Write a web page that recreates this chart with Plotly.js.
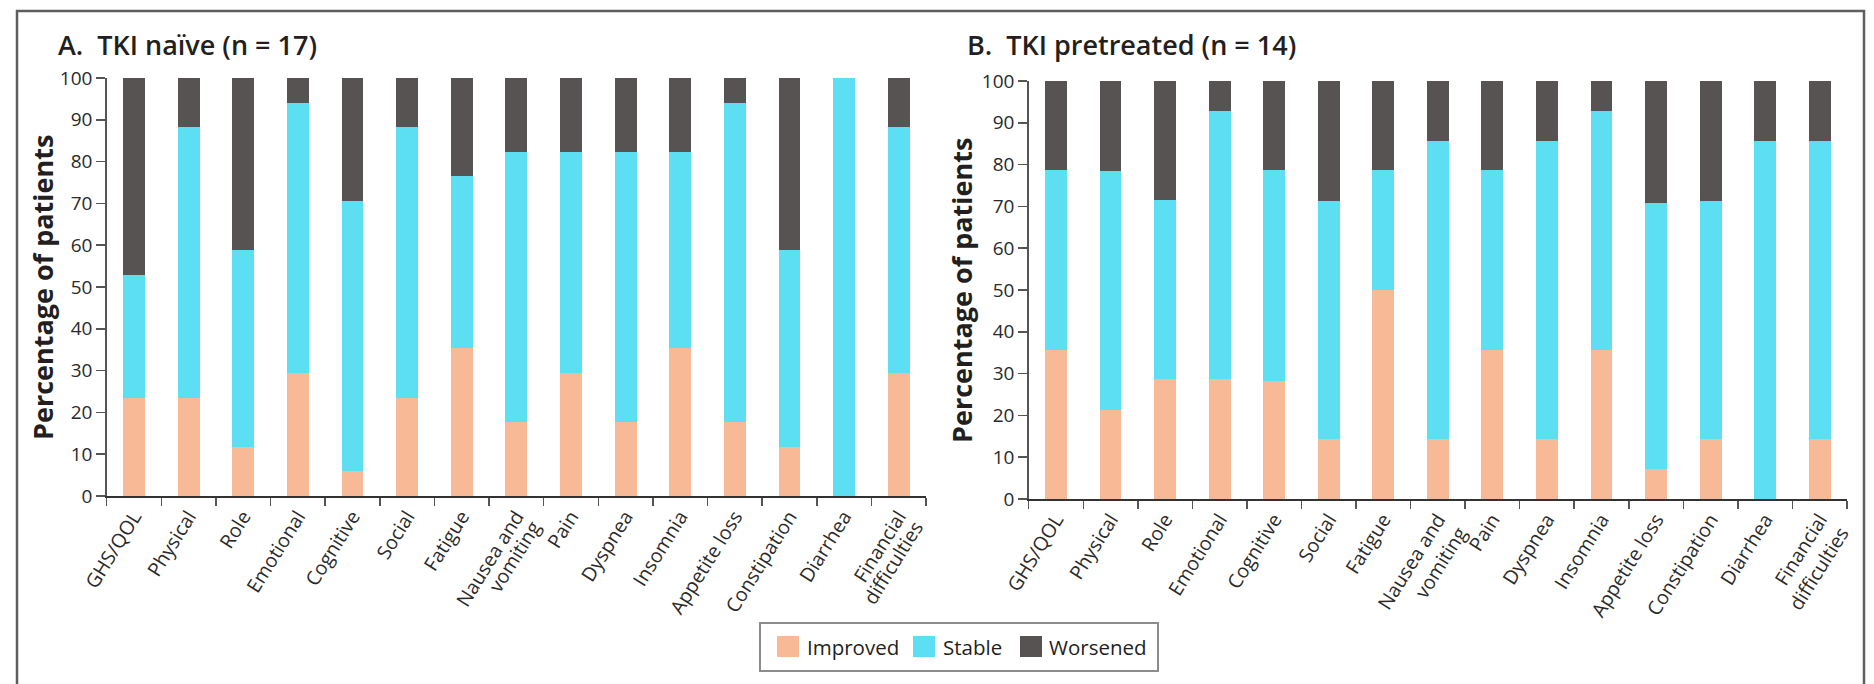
<!DOCTYPE html>
<html>
<head>
<meta charset="utf-8">
<script src="https://cdn.plot.ly/plotly-3.0.1.min.js"></script>
<style>
  html, body { margin: 0; padding: 0; background: #ffffff; }
  #chart { width: 1874px; height: 684px; }
</style>
</head>
<body>
<div id="chart"></div>
<script>
// ---- Data (percentages of patients) ----
const categories = ['GHS/QOL', 'Physical', 'Role', 'Emotional', 'Cognitive', 'Social', 'Fatigue',
  'Nausea and<br>vomiting', 'Pain', 'Dyspnea', 'Insomnia', 'Appetite loss', 'Constipation',
  'Diarrhea', 'Financial<br>difficulties'];

const naiveImproved = [23.5, 23.5, 11.8, 29.4, 5.9, 23.5, 35.3, 17.6, 29.4, 17.6, 35.3, 17.6, 11.8, 0, 29.4];
const naiveStable   = [29.4, 64.7, 47.1, 64.7, 64.7, 64.7, 41.2, 64.7, 52.9, 64.7, 47.1, 76.5, 47.1, 100, 58.8];
const naiveWorsened = [47.1, 11.8, 41.2, 5.9, 29.4, 11.8, 23.5, 17.6, 17.6, 17.6, 17.6, 5.9, 41.2, 0, 11.8];

const pretreatedImproved = [35.7, 21.4, 28.6, 28.6, 28.3, 14.3, 50.0, 14.3, 35.7, 14.3, 35.7, 7.1, 14.3, 0, 14.3];
const pretreatedStable   = [42.9, 57.1, 42.9, 64.3, 50.3, 57.1, 28.6, 71.4, 42.9, 71.4, 57.1, 63.8, 57.1, 85.7, 71.4];
const pretreatedWorsened = [21.4, 21.4, 28.6, 7.1, 21.4, 28.6, 21.4, 14.3, 21.4, 14.3, 7.1, 29.1, 28.6, 14.3, 14.3];

const seriesNames = ['Improved', 'Stable', 'Worsened'];
const panelTitles = ['A.  TKI na\u00efve (n = 17)', 'B.  TKI pretreated (n = 14)'];
const yTitle = 'Percentage of patients';
const yTickValues = [0, 10, 20, 30, 40, 50, 60, 70, 80, 90, 100];

// ---- Styles ----
const colors = ['#F8B996', '#5CDEF3', '#575353'];
const FONT = '"Open Sans", "DejaVu Sans", sans-serif';
const W = 1874, H = 684;
const px = v => v / W;
const py = v => 1 - v / H;

const naive = [naiveImproved, naiveStable, naiveWorsened];
const pre = [pretreatedImproved, pretreatedStable, pretreatedWorsened];

const traces = [];
seriesNames.forEach((name, i) => {
  traces.push({
    type: 'bar', name: name, x: categories, y: naive[i],
    xaxis: 'x', yaxis: 'y', showlegend: false,
    marker: { color: colors[i], line: { width: 0 } }, hoverinfo: 'x+y+name'
  });
});
seriesNames.forEach((name, i) => {
  traces.push({
    type: 'bar', name: name, x: categories, y: pre[i],
    xaxis: 'x2', yaxis: 'y2', showlegend: false,
    marker: { color: colors[i], line: { width: 0 } }, hoverinfo: 'x+y+name'
  });
});

const xCommon = {
  type: 'category', showline: true, linecolor: '#333', linewidth: 1.5,
  ticks: 'outside', tickson: 'boundaries', ticklen: 8, tickwidth: 1.5, tickcolor: '#555',
  tickangle: -58, tickfont: { family: FONT, size: 19.5, color: '#2a2a2a' },
  showgrid: false, zeroline: false, fixedrange: true
};
const yCommon = {
  range: [0, 100], tickvals: yTickValues, showline: true, linecolor: '#555', linewidth: 1.5,
  ticks: 'outside', ticklen: 9, tickwidth: 1.5, tickcolor: '#555',
  tickfont: { family: FONT, size: 19, color: '#2a2a2a' },
  showgrid: false, zeroline: false, fixedrange: true
};

// Legend drawn as layout shapes + text (box, swatches, labels)
const legendBox = { x0: 760, x1: 1158, y0: 623, y1: 671 };
const legendSwatchX = [777, 913, 1020];
const legendTextX = [806, 942, 1048];
const legendShapes = [
  { type: 'rect', xref: 'paper', yref: 'paper', x0: px(legendBox.x0), x1: px(legendBox.x1),
    y0: py(legendBox.y1), y1: py(legendBox.y0), line: { color: '#8c8c8c', width: 2 }, fillcolor: '#ffffff' }
];
const legendAnnots = [];
seriesNames.forEach((name, i) => {
  legendShapes.push({ type: 'rect', xref: 'paper', yref: 'paper',
    x0: px(legendSwatchX[i]), x1: px(legendSwatchX[i] + 22), y0: py(657), y1: py(636),
    line: { width: 0 }, fillcolor: colors[i] });
  legendAnnots.push({ text: name, xref: 'paper', yref: 'paper', x: px(legendTextX[i]), y: py(647),
    xanchor: 'left', yanchor: 'middle', showarrow: false, borderpad: 0,
    font: { family: FONT, size: 20.5, color: '#231f20' } });
});

const layout = {
  width: W, height: H,
  margin: { l: 0, r: 0, t: 0, b: 0 },
  paper_bgcolor: '#ffffff', plot_bgcolor: '#ffffff',
  barmode: 'stack', bargap: 0.6,
  font: { family: FONT, color: '#2a2a2a' },
  showlegend: false,
  xaxis: Object.assign({}, xCommon, { domain: [px(106.7), px(926)], anchor: 'y' }),
  xaxis2: Object.assign({}, xCommon, { domain: [px(1028.7), px(1847)], anchor: 'y2' }),
  yaxis: Object.assign({}, yCommon, { domain: [py(496), py(78)], anchor: 'x' }),
  yaxis2: Object.assign({}, yCommon, { domain: [py(499), py(81)], anchor: 'x2' }),
  annotations: [
    { text: panelTitles[0], xref: 'paper', yref: 'paper', x: px(56), y: py(44),
      xanchor: 'left', yanchor: 'middle', showarrow: false,
      font: { family: FONT, size: 27, color: '#231f20', weight: 600 } },
    { text: panelTitles[1], xref: 'paper', yref: 'paper', x: px(965), y: py(44),
      xanchor: 'left', yanchor: 'middle', showarrow: false,
      font: { family: FONT, size: 27, color: '#231f20', weight: 600 } },
    { text: yTitle, xref: 'paper', yref: 'paper', x: px(42), y: py(288),
      xanchor: 'center', yanchor: 'middle', textangle: -90, showarrow: false,
      font: { family: FONT, size: 27, color: '#231f20', weight: 700 } },
    { text: yTitle, xref: 'paper', yref: 'paper', x: px(961), y: py(290),
      xanchor: 'center', yanchor: 'middle', textangle: -90, showarrow: false,
      font: { family: FONT, size: 27, color: '#231f20', weight: 700 } }
  ].concat(legendAnnots),
  shapes: [
    { type: 'rect', xref: 'paper', yref: 'paper', x0: px(17), x1: px(1864), y0: -0.2, y1: py(11),
      line: { color: '#5e5e5e', width: 2.5 }, fillcolor: 'rgba(0,0,0,0)', layer: 'below' }
  ].concat(legendShapes)
};

Plotly.newPlot('chart', traces, layout, { displayModeBar: false, staticPlot: true }).then(() => {
  // tighter line spacing for the two-line category labels, as in the reference
  document.querySelectorAll('.xtick text tspan.line').forEach(sp => {
    if (sp.getAttribute('dy') === '1.3em') sp.setAttribute('dy', '1.02em');
  });
});
</script>
</body>
</html>
